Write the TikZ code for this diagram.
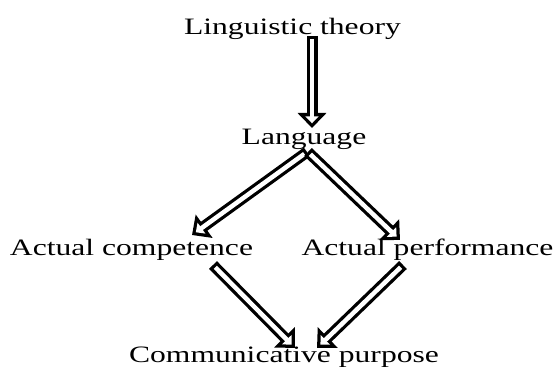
\documentclass[tikz,border=0pt]{standalone}
\usepackage{fontspec}
\setmainfont{Liberation Serif}[FakeStretch=1.345]
\usetikzlibrary{arrows.meta}

\begin{document}
\begin{tikzpicture}[
        x=1pt, y=-1pt,
        word/.style={anchor=base, inner sep=0pt, font=\fontsize{23.5}{27}\selectfont},
        hollow/.style={draw=black, line width=11pt, -{Triangle[length=15pt, width=28pt]},
            postaction={draw=white, line width=4.5pt, -{Triangle[length=7pt, width=13pt]},
                shorten <=3.25pt, shorten >=4.7pt}}
    ]

    % ==========================================
    % 1. Canvas
    % ==========================================
    \useasboundingbox[fill=white] (0,0) rectangle (558,369);

    % ==========================================
    % 2. Terms
    % ==========================================
    \node[word] (theory) at (292.5,35) {Linguistic theory};
    \node[word] (lang) at (304,145) {Language};
    \node[word] (comp) at (131.5,255) {Actual competence};
    \node[word] (perf) at (427.5,255) {Actual performance};
    \node[word] (purpose) at (284,362) {Communicative purpose};

    % ==========================================
    % 3. Hollow arrows
    % ==========================================
    \path[hollow] ([shift={(19.5,1)}]theory.base) -- ([shift={(8,-17)}]lang.base);
    \path[hollow] ([shift={(3,7)}]lang.base) -- ([shift={(60.5,-20)}]comp.base);
    \path[hollow] ([shift={(4,7)}]lang.base) -- ([shift={(-27.5,-15)}]perf.base);
    \path[hollow] ([shift={(81.5,10)}]comp.base) -- ([shift={(11,-14)}]purpose.base);
    \path[hollow] ([shift={(-24.5,10)}]perf.base) -- ([shift={(33,-14)}]purpose.base);

\end{tikzpicture}
\end{document}
